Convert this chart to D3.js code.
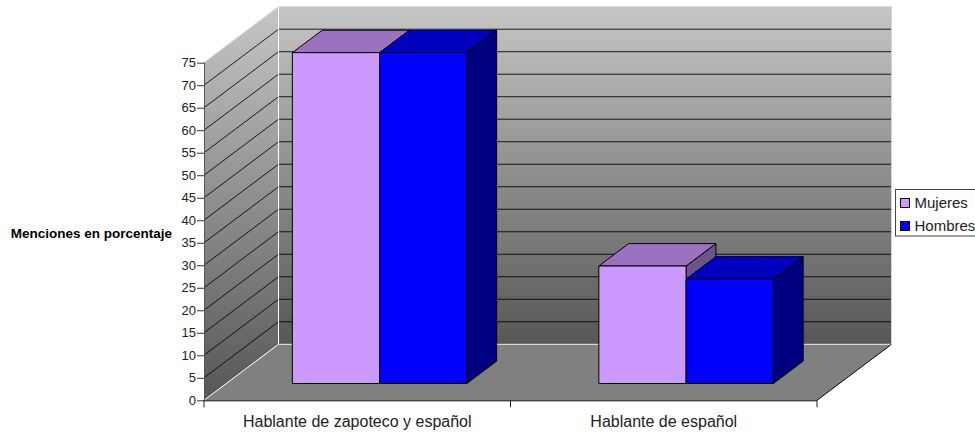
<!DOCTYPE html>
<html>
<head>
<meta charset="utf-8">
<script src="https://cdn.jsdelivr.net/npm/d3@7"></script>
<style>
  body { margin: 0; background: #fff; }
  text { font-family: "Liberation Sans", Arial, sans-serif; }
</style>
</head>
<body>
<div id="container"></div>
<script>
/* DATA */
const categories = ["Hablante de zapoteco y español", "Hablante de español"];
const mujeres = [73.5, 26.1];
const hombres = [73.5, 23.2];
const yTicks = d3.range(0, 80, 5);
const seriesNames = ["Mujeres", "Hombres"];

/* CONSTANTS */
const width = 975, height = 434;
const depth = {x: 74.5, y: -56};
const barDepth = [0.3, 0.7];
const palette = {
  Mujeres: {front: "#cc99ff", top: "#9b72bf", side: "#6a5488"},
  Hombres: {front: "#0000ff", top: "#0000bf", side: "#000080"}
};

const svg = d3.select("#container").append("svg")
  .attr("width", width)
  .attr("height", height)
  .style("display", "block");

// SCALES
const xScale = d3.scaleBand().domain(categories).range([204, 817]);
const barScale = d3.scaleBand().domain(seriesNames)
  .range([66, xScale.bandwidth() - 66]);
const yScale = d3.scaleLinear().domain([0, 75]).range([400.3, 62.7]);

// project a point in chart space: x px, value, depth 0..1
const pt = (x, v, d) => [x + d * depth.x, yScale(v) + d * depth.y];
const poly = pts => "M" + pts.map(p => p.join(",")).join("L") + "Z";

// wall gradient
const grad = svg.append("defs").append("linearGradient")
  .attr("id", "wall").attr("x1", 0).attr("x2", 0).attr("y1", 0).attr("y2", 1);
grad.append("stop").attr("offset", 0).attr("stop-color", "#c6c6c6");
grad.append("stop").attr("offset", 1).attr("stop-color", "#565656");

const [x0, x1] = xScale.range();

// WALLS AND FLOOR
svg.append("path")
  .attr("d", poly([pt(x0, 0, 1), pt(x0, 75, 1), pt(x1, 75, 1), pt(x1, 0, 1)]))
  .attr("fill", "url(#wall)");
svg.append("path")
  .attr("d", poly([pt(x0, 0, 0), pt(x0, 75, 0), pt(x0, 75, 1), pt(x0, 0, 1)]))
  .attr("fill", "url(#wall)");
svg.append("path")
  .attr("d", poly([pt(x0, 0, 0), pt(x1, 0, 0), pt(x1, 0, 1), pt(x0, 0, 1)]))
  .attr("fill", "#808080");

// GRID LINES
const gridValues = yTicks.filter(v => v > 0 && v < 75);
svg.append("g").selectAll("path")
  .data(gridValues)
  .join("path")
  .attr("d", v => d3.line()([pt(x0, v, 0), pt(x0, v, 1), pt(x1, v, 1)]))
  .attr("fill", "none")
  .attr("stroke", "#000")
  .attr("stroke-opacity", 0.85);

// wall edges
svg.append("path")
  .attr("d", d3.line()([pt(x0, 75, 0), pt(x0, 75, 1), pt(x1, 75, 1), pt(x1, 0, 1)]))
  .attr("fill", "none").attr("stroke", "#d4d4d4");
svg.append("path")
  .attr("d", d3.line()([pt(x0, 0, 0), pt(x0, 0, 1), pt(x0, 75, 1)]))
  .attr("fill", "none").attr("stroke", "#fff");
svg.append("path")
  .attr("d", d3.line()([pt(x0, 0, 1), pt(x1, 0, 1)]))
  .attr("fill", "none").attr("stroke", "#e8e8e8");
svg.append("path")
  .attr("d", d3.line()([pt(x1, 0, 1), pt(x1, 0, 0)]))
  .attr("fill", "none").attr("stroke", "#000");

// BARS
const drawBar = (g, name, left, value) => {
  const right = left + barScale.bandwidth();
  const c = palette[name];
  const [d0, d1] = barDepth;
  const faces = [
    {fill: c.side, pts: [pt(right, 0, d0), pt(right, 0, d1), pt(right, value, d1), pt(right, value, d0)]},
    {fill: c.top, pts: [pt(left, value, d0), pt(left, value, d1), pt(right, value, d1), pt(right, value, d0)]},
    {fill: c.front, pts: [pt(left, 0, d0), pt(left, value, d0), pt(right, value, d0), pt(right, 0, d0)]}
  ];
  g.selectAll("path")
    .data(faces)
    .join("path")
    .attr("d", f => poly(f.pts))
    .attr("fill", f => f.fill)
    .attr("stroke", "#000")
    .attr("stroke-linejoin", "round");
};

const bars = svg.append("g");
categories.forEach((cat, i) => {
  seriesNames.forEach(name => {
    const value = name === "Mujeres" ? mujeres[i] : hombres[i];
    drawBar(bars.append("g"), name, xScale(cat) + barScale(name), value);
  });
});

// AXES
const yAxis = d3.axisLeft(yScale).tickValues(yTicks).tickSize(7).tickPadding(1);
const gy = svg.append("g").attr("transform", `translate(${x0},0)`).call(yAxis);
gy.selectAll("text").attr("font-size", 13).attr("font-family", null).attr("fill", "#222");
gy.selectAll("line").attr("stroke", "#333");
gy.select(".domain").attr("stroke", "#555").attr("d", `M0.5,${yScale(75)}V${yScale(0)}`);

const xAxis = d3.axisBottom(xScale).tickSize(0).tickPadding(15);
const gx = svg.append("g").attr("transform", `translate(0,${yScale(0)})`).call(xAxis);
gx.select(".domain").attr("stroke", "#000").attr("d", `M${x0},0.5H${x1}`);
gx.selectAll("text").attr("font-size", 16).attr("font-family", null).attr("fill", "#222");
gx.append("g").selectAll("line")
  .data(d3.range(categories.length + 1))
  .join("line")
  .attr("x1", i => x0 + i * xScale.step())
  .attr("x2", i => x0 + i * xScale.step())
  .attr("y1", 0)
  .attr("y2", 7)
  .attr("stroke", "#222");

// AXIS TITLE
svg.append("text")
  .attr("x", 172)
  .attr("y", 237.5)
  .attr("text-anchor", "end")
  .attr("font-size", 13.5)
  .attr("font-weight", "bold")
  .text("Menciones en porcentaje");

// LEGEND
svg.append("rect")
  .attr("x", 895.5).attr("y", 189.5)
  .attr("width", 90).attr("height", 46.5)
  .attr("fill", "#fff").attr("stroke", "#444");
const legend = svg.append("g").selectAll("g")
  .data(seriesNames)
  .join("g")
  .attr("transform", (d, i) => `translate(900.5,${198.5 + i * 23})`);
legend.append("rect")
  .attr("width", 9).attr("height", 9)
  .attr("fill", d => palette[d].front)
  .attr("stroke", "#000");
legend.append("text")
  .attr("x", 14)
  .attr("y", 9.5)
  .attr("font-size", 15)
  .attr("fill", "#222")
  .text(d => d);
</script>
</body>
</html>
